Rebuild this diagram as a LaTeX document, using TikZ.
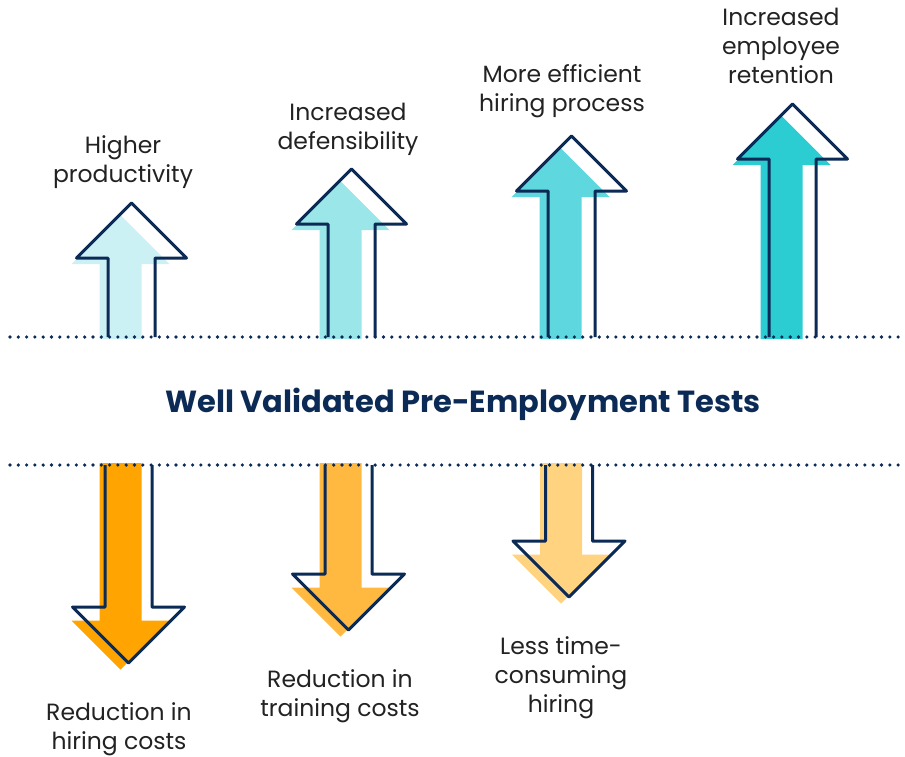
\documentclass[tikz,border=0pt]{standalone}
\usepackage{fontspec}
\setmainfont{Poppins}
\definecolor{navy}{HTML}{0B2A56}
\definecolor{txt}{HTML}{222222}
\definecolor{upA}{HTML}{CCF1F4}
\definecolor{upB}{HTML}{9BE6E9}
\definecolor{upC}{HTML}{5FD7DE}
\definecolor{upD}{HTML}{2BCDD3}
\definecolor{dnA}{HTML}{FFA400}
\definecolor{dnB}{HTML}{FFB840}
\definecolor{dnC}{HTML}{FFD380}
\newcommand{\UpArr}[3]{%
  \fill[#3] ({#1-32},339) -- ({#1-32},{#2+6}) -- ({#1-60},{#2+6}) -- ({#1-11},{#2-43}) -- ({#1+38},{#2+6}) -- ({#1+10},{#2+6}) -- ({#1+10},339) -- cycle;}
\newcommand{\UpOut}[2]{%
  \draw[outl] ({#1-23.5},337) -- ({#1-23.5},#2) -- ({#1-55},#2) -- (#1,{#2-55}) -- ({#1+55},#2) -- ({#1+23.5},#2) -- ({#1+23.5},337);}
\newcommand{\DnArr}[3]{%
  \fill[#3] ({#1-29},463) -- ({#1-29},{#2+13.5}) -- ({#1-57},{#2+13.5}) -- ({#1-8},{#2+62.5}) -- ({#1+41},{#2+13.5}) -- ({#1+13},{#2+13.5}) -- ({#1+13},463) -- cycle;}
\newcommand{\DnOut}[2]{%
  \draw[outl] ({#1-23.5},465) -- ({#1-23.5},#2) -- ({#1-56},#2) -- (#1,{#2+56}) -- ({#1+56},#2) -- ({#1+23.5},#2) -- ({#1+23.5},465);}
\begin{document}
\begin{tikzpicture}[x=1pt,y=-1pt,
  outl/.style={draw=navy,line width=3pt,line join=round},
  dots/.style={navy,line width=3.6pt,line cap=round,dash pattern=on 0pt off 8.3pt},
  lbl/.style={text=txt,font=\fontsize{23.5}{29}\selectfont,align=center,inner sep=0pt,anchor=base},
  ttl/.style={text=navy,font=\fontsize{30.5}{34}\selectfont\bfseries,inner sep=0pt,anchor=base}]
\useasboundingbox (0,0) rectangle (905,756);
% fills
\UpArr{131.5}{258}{upA}
\UpArr{351.5}{224}{upB}
\UpArr{571.5}{191}{upC}
\UpArr{792.5}{159}{upD}
\DnArr{128.5}{607}{dnA}
\DnArr{348.5}{574}{dnB}
\DnArr{569}{541}{dnC}
% dotted lines
\coordinate (d1a) at (10,337); \coordinate (d1b) at (905,337);
\coordinate (d2a) at (10,465); \coordinate (d2b) at (905,465);
\draw[dots] (d1a) -- (d1b);
\draw[dots] (d2a) -- (d2b);
% outlines
\UpOut{131.5}{258}
\UpOut{351.5}{224}
\UpOut{571.5}{191}
\UpOut{792.5}{159}
\DnOut{128.5}{607}
\DnOut{348.5}{574}
\DnOut{569}{541}
% labels (anchor = baseline of last line)
\node[ttl] (title) at (463,412) {Well Validated Pre-Employment Tests};
\node[lbl] (l1) at (123,182) {Higher\\productivity};
\node[lbl] (l2) at (348,149) {Increased\\defensibility};
\node[lbl] (l3) at (562,111) {More efficient\\hiring process};
\node[lbl] (l4) at (781,83) {Increased\\employee\\retention};
\node[lbl] (l5) at (119,749) {Reduction in\\hiring costs};
\node[lbl] (l6) at (340,716) {Reduction in\\training costs};
\node[lbl] (l7) at (561,712) {Less time-\\consuming\\hiring};
\end{tikzpicture}
\end{document}
